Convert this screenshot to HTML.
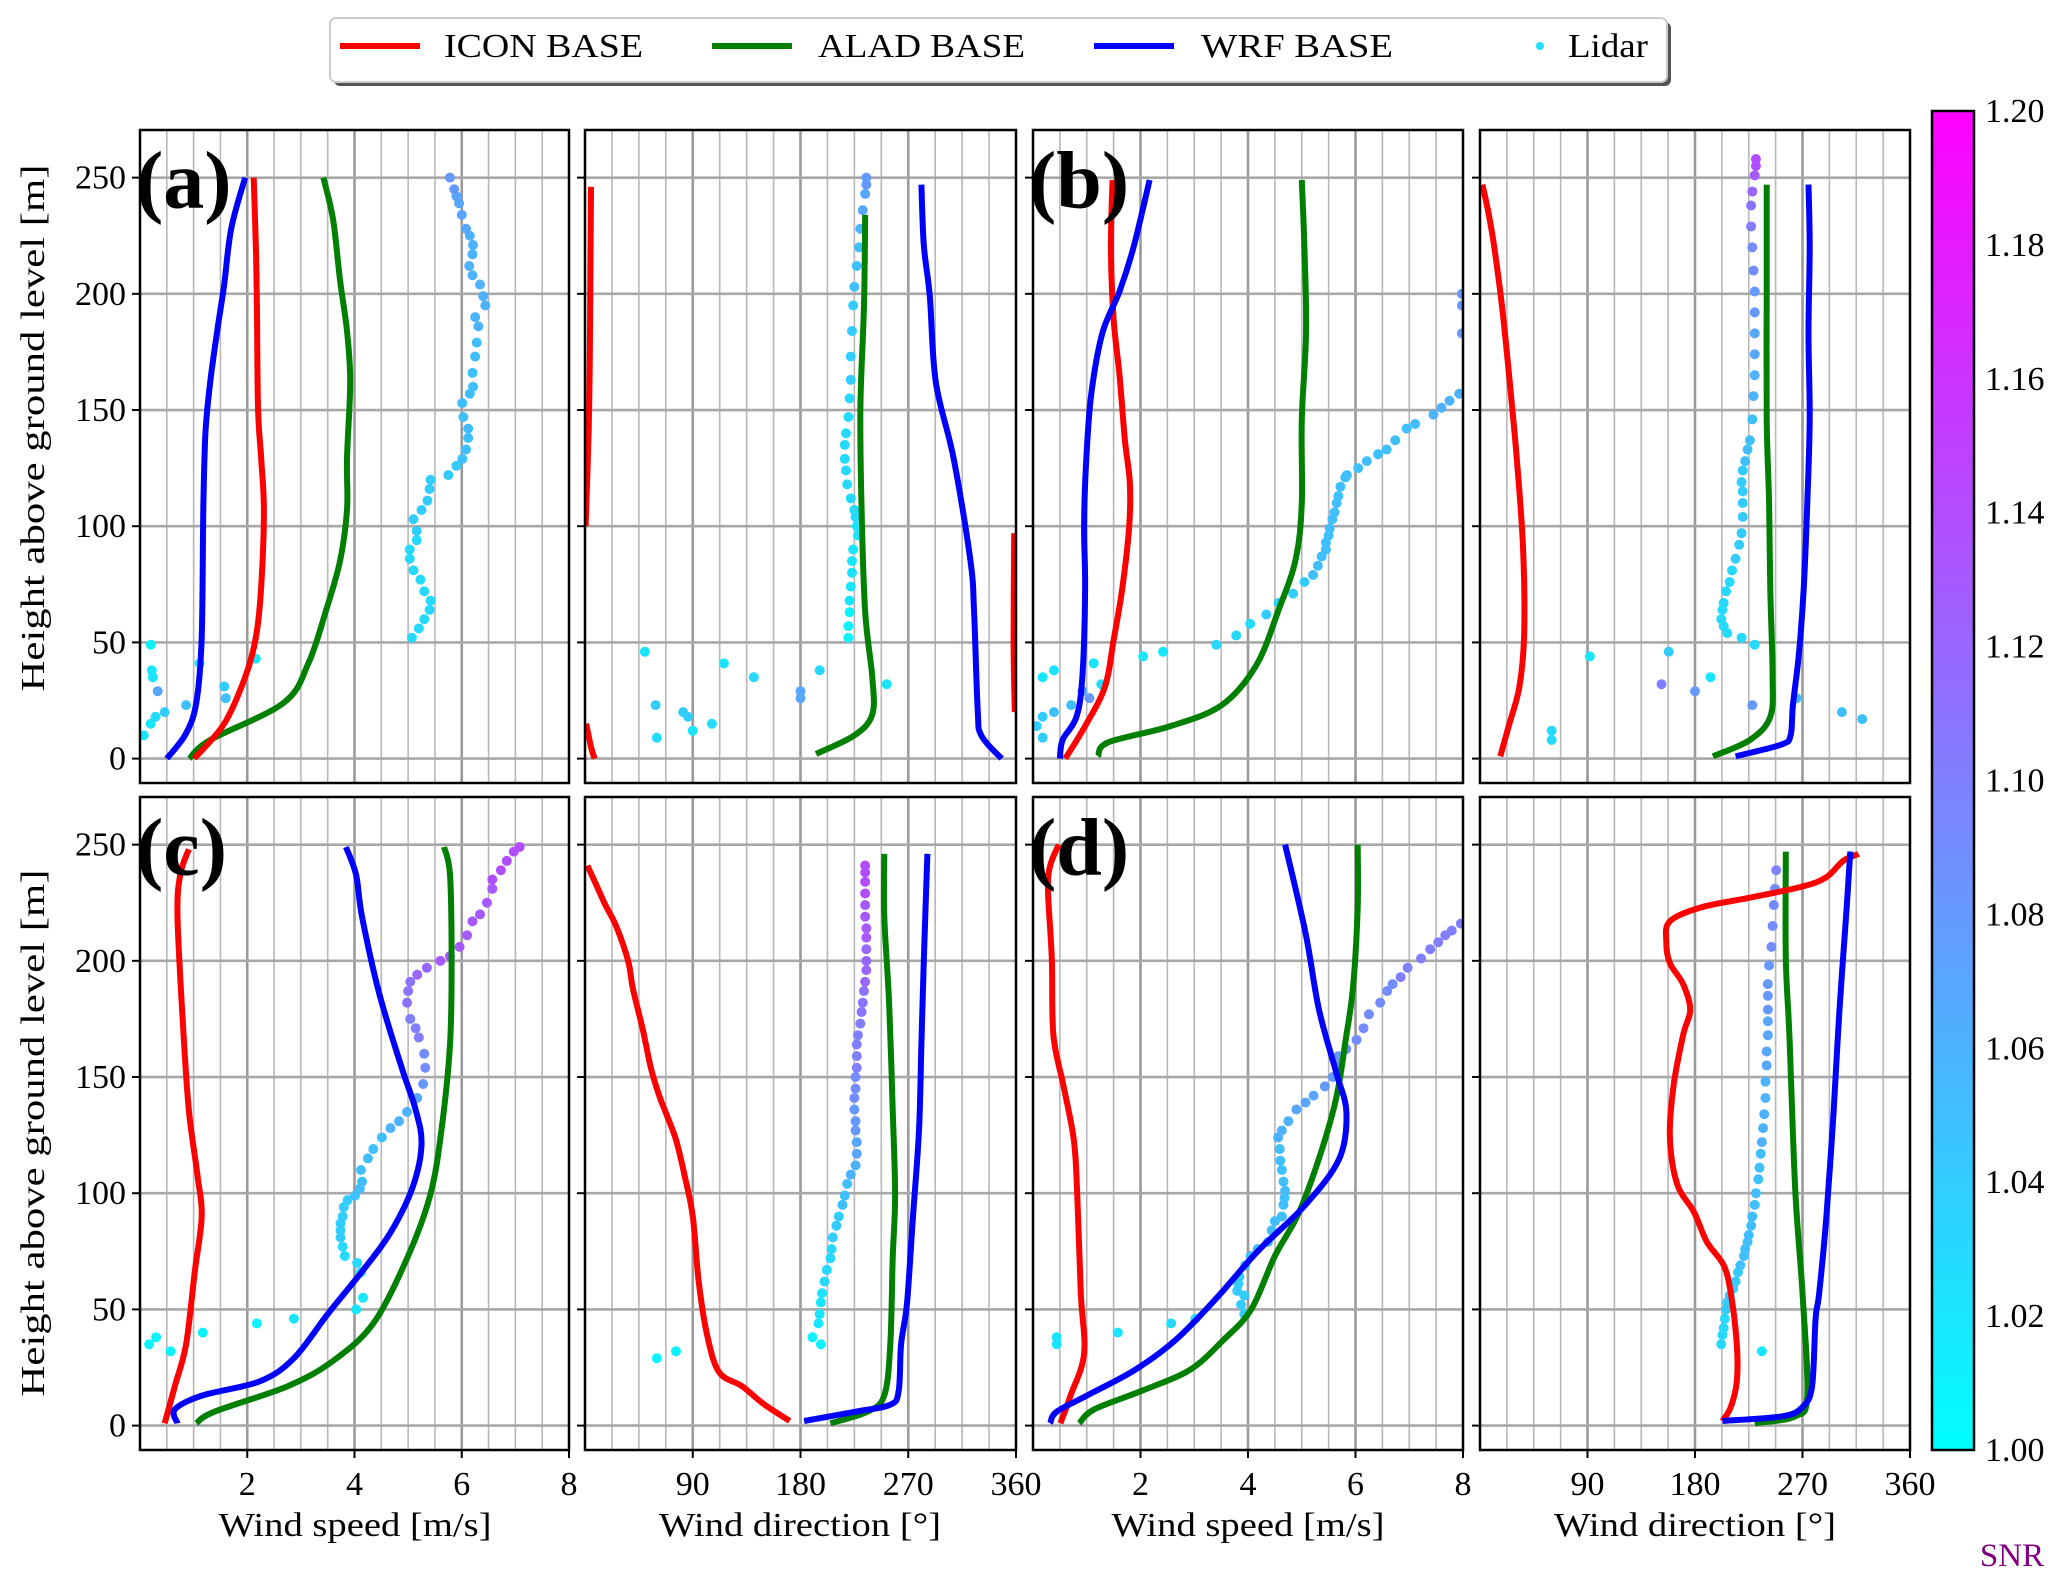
<!DOCTYPE html>
<html><head><meta charset="utf-8"><style>
html,body{margin:0;padding:0;background:#fff;}
svg{display:block;font-family:"Liberation Serif",serif;}
</style></head><body>
<svg id="fig" xmlns="http://www.w3.org/2000/svg" width="2067" height="1586" viewBox="0 0 2067 1586">
<defs>
<linearGradient id="cbg" x1="0" y1="1" x2="0" y2="0">
<stop offset="0" stop-color="#00ffff"/><stop offset="1" stop-color="#ff00ff"/>
</linearGradient>
</defs>
<g>
<rect x="334" y="22" width="1337" height="64" rx="6" fill="#555"/>
<rect x="330" y="18" width="1337" height="64" rx="6" fill="#fff" stroke="#ccc" stroke-width="2"/>
<g><line x1="340" y1="46" x2="420" y2="46" stroke="#ff0000" stroke-width="6"/><text x="444" y="57" font-size="34" textLength="199" lengthAdjust="spacingAndGlyphs">ICON BASE</text></g>
<g><line x1="712" y1="46" x2="792" y2="46" stroke="#007f00" stroke-width="6"/><text x="818" y="57" font-size="34" textLength="207" lengthAdjust="spacingAndGlyphs">ALAD BASE</text></g>
<g><line x1="1094" y1="46" x2="1174" y2="46" stroke="#0000ff" stroke-width="6"/><text x="1201" y="57" font-size="34" textLength="192" lengthAdjust="spacingAndGlyphs">WRF BASE</text></g>
<g><circle cx="1540" cy="46" r="4" fill="#22e0ff"/><text x="1568" y="57" font-size="34" textLength="80" lengthAdjust="spacingAndGlyphs">Lidar</text></g>
</g>
<g id="plots"></g>
<g>
<rect x="1932" y="111" width="42" height="1339" fill="url(#cbg)" stroke="#000" stroke-width="2.5"/>
<g id="cbticks"></g>
<text x="2012" y="1566" font-size="33" fill="#800080" text-anchor="middle">SNR</text>
</g>
<text transform="translate(44,428) rotate(-90)" font-size="34" text-anchor="middle" textLength="527" lengthAdjust="spacingAndGlyphs">Height above ground level [m]</text>
<text transform="translate(44,1133) rotate(-90)" font-size="34" text-anchor="middle" textLength="527" lengthAdjust="spacingAndGlyphs">Height above ground level [m]</text>
<text x="355" y="1536" font-size="34" text-anchor="middle" textLength="273" lengthAdjust="spacingAndGlyphs">Wind speed [m/s]</text>
<text x="800" y="1536" font-size="34" text-anchor="middle" textLength="282" lengthAdjust="spacingAndGlyphs">Wind direction [°]</text>
<text x="1248" y="1536" font-size="34" text-anchor="middle" textLength="273" lengthAdjust="spacingAndGlyphs">Wind speed [m/s]</text>
<text x="1695" y="1536" font-size="34" text-anchor="middle" textLength="282" lengthAdjust="spacingAndGlyphs">Wind direction [°]</text>
</svg>
<script>
// ---------- data (height in m, speed in m/s, direction in deg, snr) ----------
// Panel (a)
const aSpdIconH=[0,15,35,52,74,107,129,151,195,221,250];
const aSpdIconV=[1.01,1.57,1.96,2.16,2.26,2.31,2.26,2.2,2.18,2.16,2.12];
const aSpdWrfH=[0,10.5,24,52,107,140,162,184,204,228,250];
const aSpdWrfV=[0.5,0.85,1.05,1.15,1.18,1.22,1.31,1.44,1.57,1.7,1.96];
const aSpdAladH=[0,8,24,41,63,85,107,129,162,184,206,232,250];
const aSpdAladV=[0.92,1.31,2.68,3.14,3.46,3.73,3.86,3.86,3.92,3.86,3.73,3.6,3.42];
const aSpdLidH=[52,56,60,64,68,72,77,81,86,90,94,98,103,107,111,116,120,122,126,129,133,138,142,147,153,157,160,166,173,179,186,190,195,199,204,208,212,217,221,225,228,234,239,242,245,250,10,15,18,20,23,29,35,38,49,41,31,26,43];
const aSpdLidV=[5.07,5.2,5.3,5.4,5.42,5.3,5.23,5.1,5.03,5.03,5.16,5.16,5.1,5.25,5.36,5.4,5.42,5.75,5.9,6.01,6.08,6.12,6.12,6.03,6.01,6.15,6.21,6.2,6.25,6.28,6.31,6.25,6.44,6.4,6.34,6.2,6.14,6.2,6.21,6.15,6.08,6.0,5.95,5.9,5.86,5.78,0.07,0.2,0.29,0.46,0.86,0.33,0.24,0.22,0.2,1.11,1.57,1.6,2.16];
const aSpdLidS=[1.03,1.03,1.03,1.03,1.03,1.03,1.03,1.03,1.03,1.03,1.03,1.04,1.04,1.04,1.04,1.04,1.04,1.04,1.04,1.05,1.05,1.05,1.05,1.05,1.05,1.05,1.05,1.05,1.05,1.05,1.06,1.06,1.06,1.06,1.06,1.06,1.06,1.06,1.06,1.06,1.07,1.07,1.07,1.07,1.08,1.08,1.02,1.02,1.03,1.04,1.05,1.07,1.02,1.02,1.01,1.01,1.04,1.05,1.02];
const aDirIconH=[0,5,15,20,50,97,100,140,173,210,246];
const aDirIconV=[8,5,1,-1,-2,-1.5,0.5,3,4,4.5,5];
const aDirWrfH=[0,10,21,63,85,129,162,199,221,247];
const aDirWrfV=[348,331,328,325,322,308,293,288,283,281];
const aDirAladH=[2,10,19,35,63,107,151,195,234];
const aDirAladV=[193,225,240,240,234,231,230,233,234];
const aDirLidH=[52,57,63,68,74,80,85,90,96,100,104,107,112,118,124,129,135,140,147,155,163,173,184,195,203,212,220,228,236,243,247,250,46,23,9,20,18,12,15,41,35,29,26,38,32];
const aDirLidV=[220,220,221,221,222,223,223,224,228,227,226,225,222,219,218,217,217,218,220,221,222,222,223,224,225,227,229,230,232,234,235,235,50,59,60,82,86,90,106,116,141,180,180,196,252];
const aDirLidS=[1.01,1.01,1.01,1.02,1.02,1.02,1.02,1.02,1.02,1.02,1.03,1.03,1.03,1.03,1.03,1.03,1.03,1.03,1.03,1.03,1.04,1.04,1.04,1.04,1.05,1.05,1.05,1.06,1.07,1.07,1.08,1.08,1.02,1.04,1.03,1.04,1.04,1.02,1.03,1.02,1.03,1.07,1.07,1.03,1.02];
// Panel (b)
const bSpdIconH=[0,14,31,51,73,100,119,137,165,189,220,249];
const bSpdIconV=[0.6,0.97,1.34,1.5,1.66,1.79,1.8,1.71,1.61,1.5,1.45,1.48];
const bSpdWrfH=[0,8,18,36,73,100,128,156,183,201,220,249];
const bSpdWrfV=[0.5,0.55,0.81,0.92,0.97,0.95,0.99,1.08,1.29,1.61,1.87,2.17];
const bSpdAladH=[1,7,14,23,40,64,86,110,146,183,220,249];
const bSpdAladV=[1.21,1.4,2.56,3.51,4.15,4.57,4.89,5.0,5.0,5.08,5.05,5.0];
const bSpdLidH=[49,53,58,62,67,71,76,79,83,87,90,93,96,99,103,106,110,113,117,121,122,125,128,131,133,137,142,144,148,151,154,157,183,195,200,14,18,9,20,23,29,26,32,35,38,41,44,46];
const bSpdLidV=[3.41,3.78,4.04,4.34,4.57,4.84,5.05,5.21,5.3,5.37,5.45,5.45,5.5,5.52,5.57,5.61,5.65,5.68,5.72,5.81,5.84,6.05,6.21,6.42,6.58,6.74,6.95,7.11,7.45,7.6,7.75,7.93,7.98,7.98,7.98,0.07,0.18,0.18,0.39,0.71,0.92,1.05,1.27,0.18,0.39,1.13,2.05,2.42];
const bSpdLidS=[1.03,1.03,1.03,1.04,1.04,1.04,1.04,1.05,1.05,1.05,1.05,1.05,1.05,1.05,1.05,1.05,1.05,1.05,1.05,1.05,1.05,1.05,1.05,1.05,1.05,1.05,1.05,1.05,1.06,1.06,1.06,1.06,1.08,1.08,1.08,1.04,1.04,1.04,1.05,1.05,1.07,1.08,1.03,1.02,1.02,1.02,1.02,1.02];
const bDirIconH=[1,14,31,54,91,128,156,192,220,235,247];
const bDirIconV=[17,24,33,37,36,31,26,19,12,7,2];
const bDirWrfH=[1,6,10,23,45,73,110,146,183,220,247];
const bDirWrfV=[214,252,260,262,267,271,274,276,275,276,275];
const bDirAladH=[1,8,18,36,73,110,146,201,247];
const bDirAladV=[195,226,243,245,243,242,240,240,240];
const bDirLidH=[54,57,60,64,67,72,76,81,86,92,97,104,110,115,119,124,128,133,137,146,156,165,174,183,192,201,210,220,229,238,244,251,255,258,44,46,32,29,35,52,49,23,26,20,17,12,8];
const bDirLidV=[207,204,202,203,204,206,209,211,214,217,219,220,220,220,219,220,222,224,226,228,229,230,230,230,230,230,229,228,227,227,228,230,231,231,92,158,152,180,193,219,230,228,265,303,320,60,60];
const bDirLidS=[1.03,1.03,1.03,1.03,1.03,1.03,1.03,1.03,1.04,1.04,1.04,1.04,1.04,1.04,1.04,1.04,1.05,1.05,1.05,1.05,1.06,1.06,1.07,1.07,1.08,1.08,1.09,1.09,1.1,1.11,1.12,1.13,1.14,1.14,1.02,1.04,1.1,1.08,1.02,1.03,1.03,1.08,1.05,1.05,1.05,1.03,1.03];
// Panel (c)
const cSpdIconH=[1,17,35,66,90,108,136,173,219,237,248];
const cSpdIconV=[0.46,0.65,0.86,1.02,1.15,1.07,0.91,0.8,0.7,0.75,0.91];
const cSpdWrfH=[1,7,13,19,29,48,66,83,103,121,136,154,186,219,237,249];
const cSpdWrfV=[0.7,0.65,1.17,2.23,2.87,3.5,4.13,4.67,5.09,5.25,5.14,4.88,4.46,4.14,4.03,3.84];
const cSpdAladH=[1,6,17,28,44,72,99,127,164,200,237,249];
const cSpdAladV=[1.05,1.39,2.76,3.61,4.35,4.98,5.41,5.62,5.78,5.81,5.78,5.67];
const cSpdLidH=[50,55,66,70,73,77,81,84,87,90,94,97,99,102,105,110,115,119,124,128,131,135,141,147,154,160,167,171,175,182,187,191,194,197,200,202,206,211,217,220,225,231,235,239,243,247,249,35,38,32,40,44,46];
const cSpdLidV=[4.03,4.16,4.12,4.05,3.82,3.78,3.74,3.74,3.74,3.78,3.8,3.87,4.01,4.1,4.14,4.12,4.25,4.35,4.51,4.67,4.83,4.98,5.17,5.28,5.32,5.3,5.2,5.14,5.04,4.98,5.0,5.04,5.17,5.35,5.6,5.78,5.96,6.1,6.2,6.34,6.47,6.57,6.57,6.73,6.84,6.97,7.08,0.17,0.3,0.57,1.17,2.18,2.87];
const cSpdLidS=[1.02,1.02,1.02,1.03,1.03,1.03,1.04,1.04,1.04,1.04,1.04,1.04,1.05,1.05,1.05,1.05,1.05,1.05,1.05,1.06,1.06,1.06,1.07,1.08,1.09,1.09,1.1,1.1,1.1,1.11,1.11,1.11,1.12,1.12,1.13,1.13,1.13,1.13,1.13,1.13,1.13,1.13,1.14,1.14,1.14,1.14,1.14,1.01,1.01,1.01,1.01,1.01,1.02];
const cDirIconH=[2,9,17,23,39,62,90,108,123,134,142,154,171,188,200,215,224,232,241,246];
const cDirIconV=[171,150,131,112,102,95,90,83,76,68,62,55,48,40,36,26,17,10,2,-3];
const cDirWrfH=[2,6,9,15,35,53,90,127,164,200,246];
const cDirWrfV=[183,226,255,262,264,269,274,279,281,283,286];
const cDirAladH=[1,6,13,35,72,99,136,182,219,246];
const cDirAladV=[205,236,250,255,257,259,257,254,250,250];
const cDirLidH=[35,38,44,48,53,57,62,67,72,76,81,86,90,95,99,104,108,112,117,122,127,131,136,141,145,150,154,159,164,168,173,178,182,187,191,196,200,205,210,214,219,224,229,234,238,241,29,32];
const cDirLidV=[197,190,195,196,197,198,200,202,205,206,207,210,212,215,217,219,222,226,227,227,226,226,225,225,226,226,227,227,227,228,230,231,232,233,234,235,235,235,235,235,234,234,234,234,234,234,60,76];
const cDirLidS=[1.01,1.01,1.02,1.02,1.02,1.02,1.03,1.03,1.03,1.03,1.04,1.04,1.04,1.05,1.05,1.05,1.06,1.06,1.07,1.07,1.08,1.08,1.08,1.09,1.09,1.09,1.1,1.1,1.1,1.1,1.1,1.11,1.11,1.11,1.12,1.12,1.12,1.12,1.13,1.13,1.13,1.13,1.14,1.14,1.14,1.14,1.01,1.01];
// Panel (d)
const dSpdIconH=[1,13,31,57,101,123,146,168,201,230,241,250];
const dSpdIconV=[0.51,0.7,0.95,0.89,0.82,0.76,0.57,0.38,0.35,0.28,0.32,0.48];
const dSpdWrfH=[1,6,13,24,37,55,75,95,115,135,152,179,212,250];
const dSpdWrfV=[0.32,0.44,1.01,1.9,2.66,3.42,4.18,5.07,5.7,5.83,5.64,5.32,5.07,4.69];
const dSpdAladH=[1,7,15,24,37,50,73,95,135,168,190,223,250];
const dSpdAladV=[0.86,1.14,2.03,2.92,3.55,4.06,4.5,5.01,5.58,5.83,5.96,6.04,6.04];
const dSpdLidH=[48,52,56,58,61,64,69,73,76,79,84,88,90,95,98,101,105,110,114,119,124,127,131,136,139,142,146,150,155,159,162,166,171,177,182,187,190,193,197,201,205,208,211,213,216,38,35,40,44,46];
const dSpdLidV=[3.93,3.87,3.93,3.8,3.82,3.84,3.95,4.05,4.18,4.37,4.44,4.5,4.63,4.66,4.68,4.69,4.66,4.63,4.6,4.59,4.56,4.63,4.75,4.9,5.07,5.22,5.43,5.58,5.67,5.68,5.83,6.02,6.15,6.25,6.46,6.59,6.69,6.84,6.97,7.22,7.39,7.54,7.67,7.79,7.96,0.44,0.44,1.58,2.57,3.02];
const dSpdLidS=[1.04,1.04,1.04,1.04,1.04,1.04,1.05,1.05,1.05,1.05,1.05,1.05,1.05,1.05,1.05,1.05,1.05,1.05,1.05,1.05,1.06,1.06,1.06,1.07,1.07,1.07,1.08,1.08,1.08,1.08,1.09,1.09,1.09,1.09,1.09,1.09,1.09,1.1,1.1,1.1,1.1,1.1,1.1,1.1,1.1,1.02,1.02,1.02,1.03,1.03];
const dDirIconH=[2,8,19,35,57,69,79,92,104,124,146,168,179,190,199,208,217,223,227,232,236,243,246];
const dDirIconV=[203,210,215,215,210,204,190,179,165,159,162,170,176,170,159,156,159,185,224,270,290,304,317];
const dDirWrfH=[2,4,8,17,46,57,90,135,179,223,247];
const dDirWrfV=[203,253,270,278,281,284,290,296,301,307,310];
const dDirAladH=[1,4,13,57,101,168,201,247];
const dDirAladV=[230,264,274,270,264,259,256,256];
const dDirLidH=[35,39,42,46,50,53,56,59,62,66,69,73,76,79,82,86,90,95,100,106,111,117,122,128,134,141,148,155,161,168,174,179,185,190,198,206,215,224,231,239,32];
const dDirLidV=[202,203,204,205,206,207,209,212,214,216,218,221,222,224,225,227,228,230,231,233,234,235,236,237,238,239,239,240,240,241,241,241,241,241,242,244,245,246,247,248,236];
const dDirLidS=[1.03,1.03,1.03,1.03,1.04,1.04,1.04,1.04,1.04,1.04,1.05,1.05,1.05,1.05,1.05,1.05,1.05,1.05,1.05,1.05,1.05,1.05,1.06,1.06,1.06,1.06,1.06,1.07,1.07,1.07,1.07,1.08,1.08,1.08,1.08,1.09,1.09,1.09,1.09,1.1,1.02];
// axis ticks
const yTicks=[0,50,100,150,200,250];
const speedTickLabels=["2","4","6","8"];
const speedTickValues=[2,4,6,8];
const dirTickLabels=["90","180","270","360"];
const dirTickValues=[90,180,270,360];
const cbTickValues=[1.00,1.02,1.04,1.06,1.08,1.10,1.12,1.14,1.16,1.18,1.20];
const cbTickLabels=["1.00","1.02","1.04","1.06","1.08","1.10","1.12","1.14","1.16","1.18","1.20"];

const NS="http://www.w3.org/2000/svg";
const root=document.getElementById('plots');
function mk(tag,attrs,parent){const e=document.createElementNS(NS,tag);for(const k in attrs)e.setAttribute(k,attrs[k]);(parent||root).appendChild(e);return e;}
const YMIN=-10.5,YMAX=270.5;
const cols=[[140,569],[585,1016],[1033,1463],[1480,1910]];
const rows=[[130,783],[797,1450]];
function cool(s){let t=(s-1)/0.2;t=Math.max(0,Math.min(1,t));return 'rgb('+Math.round(255*t)+','+Math.round(255*(1-t))+',255)';}
function smoothPath(pts){
  if(pts.length<2)return '';
  let d='M'+pts[0][0].toFixed(1)+','+pts[0][1].toFixed(1);
  for(let i=0;i<pts.length-1;i++){
    const p0=pts[Math.max(0,i-1)],p1=pts[i],p2=pts[i+1],p3=pts[Math.min(pts.length-1,i+2)];
    const c1=[p1[0]+(p2[0]-p0[0])/6,p1[1]+(p2[1]-p0[1])/6];
    const c2=[p2[0]-(p3[0]-p1[0])/6,p2[1]-(p3[1]-p1[1])/6];
    d+=' C'+c1[0].toFixed(1)+','+c1[1].toFixed(1)+' '+c2[0].toFixed(1)+','+c2[1].toFixed(1)+' '+p2[0].toFixed(1)+','+p2[1].toFixed(1);
  }
  return d;
}

const panels=[
 {id:'a',r:0,c:0,type:'speed',label:'(a)',icon:[aSpdIconH,aSpdIconV],alad:[aSpdAladH,aSpdAladV],wrf:[aSpdWrfH,aSpdWrfV],lid:[aSpdLidH,aSpdLidV,aSpdLidS]},
 {id:'a',r:0,c:1,type:'dir',icon:[aDirIconH,aDirIconV],alad:[aDirAladH,aDirAladV],wrf:[aDirWrfH,aDirWrfV],lid:[aDirLidH,aDirLidV,aDirLidS]},
 {id:'b',r:0,c:2,type:'speed',label:'(b)',icon:[bSpdIconH,bSpdIconV],alad:[bSpdAladH,bSpdAladV],wrf:[bSpdWrfH,bSpdWrfV],lid:[bSpdLidH,bSpdLidV,bSpdLidS]},
 {id:'b',r:0,c:3,type:'dir',icon:[bDirIconH,bDirIconV],alad:[bDirAladH,bDirAladV],wrf:[bDirWrfH,bDirWrfV],lid:[bDirLidH,bDirLidV,bDirLidS]},
 {id:'c',r:1,c:0,type:'speed',label:'(c)',icon:[cSpdIconH,cSpdIconV],alad:[cSpdAladH,cSpdAladV],wrf:[cSpdWrfH,cSpdWrfV],lid:[cSpdLidH,cSpdLidV,cSpdLidS]},
 {id:'c',r:1,c:1,type:'dir',icon:[cDirIconH,cDirIconV],alad:[cDirAladH,cDirAladV],wrf:[cDirWrfH,cDirWrfV],lid:[cDirLidH,cDirLidV,cDirLidS]},
 {id:'d',r:1,c:2,type:'speed',label:'(d)',icon:[dSpdIconH,dSpdIconV],alad:[dSpdAladH,dSpdAladV],wrf:[dSpdWrfH,dSpdWrfV],lid:[dSpdLidH,dSpdLidV,dSpdLidS]},
 {id:'d',r:1,c:3,type:'dir',icon:[dDirIconH,dDirIconV],alad:[dDirAladH,dDirAladV],wrf:[dDirWrfH,dDirWrfV],lid:[dDirLidH,dDirLidV,dDirLidS]}
];

panels.forEach((p,pi)=>{
  const [x0,x1]=cols[p.c],[y0,y1]=rows[p.r];
  const xmax=p.type==='speed'?8:360;
  const xs=v=>x0+(v/xmax)*(x1-x0);
  const ys=h=>y1-(h-YMIN)/(YMAX-YMIN)*(y1-y0);
  const kind=p.type==='speed'?'speed':'direction';
  const g=mk('g',{});
  
  
  const cp=mk('clipPath',{id:'clip'+pi},g);
  mk('rect',{x:x0,y:y0,width:x1-x0,height:y1-y0},cp);
  const minor=p.type==='speed'?0.5:22.5, major=p.type==='speed'?2:90;
  for(let v=minor;v<xmax-1e-6;v+=minor){
    const isMaj=Math.abs(v/major-Math.round(v/major))<1e-6;
    const l=mk('line',{x1:xs(v),x2:xs(v),y1:y0,y2:y1,stroke:isMaj?'#9a9a9a':'#b8b8b8','stroke-width':isMaj?2.6:1.6},g);
    
    
  }
  yTicks.forEach(h=>{
    const l=mk('line',{x1:x0,x2:x1,y1:ys(h),y2:ys(h),stroke:'#a8a8a8','stroke-width':2.6},g);
    
    
    const t=mk('line',{x1:x0-8,x2:x0,y1:ys(h),y2:ys(h),stroke:'#000','stroke-width':2},g);
    
    
    if(p.c===0){
      const tl=mk('text',{x:x0-14,y:ys(h)+11,'font-size':34,'text-anchor':'end'},g);
      tl.textContent=String(h);
      
      
    }
  });
  if(p.r===1){
    const vals=p.type==='speed'?speedTickValues:dirTickValues;
    const labs=p.type==='speed'?speedTickLabels:dirTickLabels;
    vals.forEach((v,i)=>{
      const t=mk('line',{x1:xs(v),x2:xs(v),y1:y1,y2:y1+8,stroke:'#000','stroke-width':2},g);
      
      
      const tl=mk('text',{x:xs(v),y:y1+45,'font-size':34,'text-anchor':'middle'},g);
      tl.textContent=labs[i];
      
      
    });
  }
  const dg=mk('g',{'clip-path':'url(#clip'+pi+')'},g);
  
  
  function line(H,V,color,name){
    const segs=[];let cur=[],prev=null;
    for(let i=0;i<H.length;i++){
      let v=V[i];
      if(p.type==='dir')v=((v%360)+360)%360;
      if(prev!==null&&p.type==='dir'&&Math.abs(v-prev)>180){segs.push(cur);cur=[];}
      cur.push([xs(v),ys(H[i])]);
      prev=v;
    }
    segs.push(cur);
    const d=segs.map(smoothPath).join(' ');
    const e=mk('path',{d:d,fill:'none',stroke:color,'stroke-width':6,'stroke-linejoin':'round','stroke-linecap':'butt'},dg);
    
    
  }
  const [LH,LV,LS]=p.lid;
  for(let i=0;i<LH.length;i++){
    const c=mk('circle',{cx:xs(LV[i]),cy:ys(LH[i]),r:5,fill:cool(LS[i])},dg);
    
    
  }
  line(p.alad[0],p.alad[1],'#007f00','alad-base-line');
  line(p.icon[0],p.icon[1],'#ff0000','icon-base-line');
  line(p.wrf[0],p.wrf[1],'#0000ff','wrf-base-line');
  const fr=mk('rect',{x:x0,y:y0,width:x1-x0,height:y1-y0,fill:'none',stroke:'#000','stroke-width':2.5},g);
  
  
  if(p.label){
    const lt=mk('text',{x:x0-4,y:ys(250)+30,'font-size':82,'font-weight':'bold'},g);
    lt.textContent=p.label;
    
    
  }
});
const cbg=document.getElementById('cbticks');
cbTickValues.forEach((v,i)=>{
  const y=1450-(v-1)/0.2*(1450-111);
  const t=mk('text',{x:1985,y:y+11,'font-size':34},cbg);
  t.textContent=cbTickLabels[i];
  
  
});
</script>
</body></html>
